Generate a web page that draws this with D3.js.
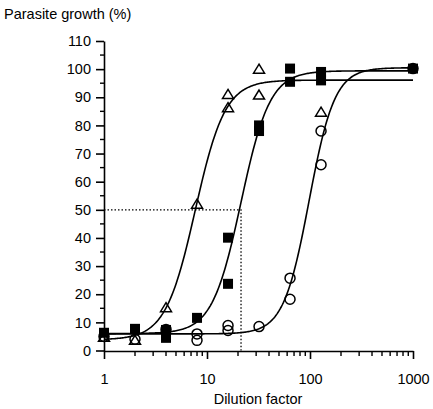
<!DOCTYPE html>
<html><head><meta charset="utf-8">
<script src="https://cdn.jsdelivr.net/npm/d3@7"></script>
<style>body{margin:0;background:#fff}svg{display:block}text{font-family:"Liberation Sans",Arial,sans-serif;fill:#000}</style>
</head><body>
<script>
// Dilution factors and parasite growth (%)
const triX = [1, 2, 4, 8, 16, 16, 32, 32, 128];
const triY = [4.7, 3.6, 15.2, 52, 91, 86.3, 100, 90.8, 84.7];
const sqX = [1, 2, 4, 4, 8, 16, 16, 32, 32, 64, 64, 128, 128, 1000];
const sqY = [6.3, 7.7, 7.3, 4.5, 11.6, 40.1, 23.7, 80, 78, 100.2, 95.5, 99, 96, 100.2];
const ciX = [1, 2, 4, 8, 8, 16, 16, 32, 64, 64, 128, 128, 1000];
const ciY = [5, 4, 7.5, 5.9, 3.6, 8.9, 7.1, 8.5, 25.7, 18.2, 78, 66, 100.2];
// fitted 4-parameter logistic curves: [bottom, top, EC50, hill]
const triFit = [3.8, 96.1, 7.7, 3.0];
const sqFit = [6.0, 99.4, 21.4, 3.1];
const ciFit = [5.9, 100.5, 98, 3.5];
const ic50 = 21.4;
const yTicks = [0,10,20,30,40,50,60,70,80,90,100,110];
const xTicks = [1,10,100,1000];

const W = 433, H = 409;
const svg = d3.select("body").append("svg").attr("width", W).attr("height", H);
const x = d3.scaleLog().domain([1,1000]).range([104,413]);
const y = d3.scaleLinear().domain([0,110]).range([350.5,41]);

// y axis
const yAxis = d3.axisLeft(y).tickValues(yTicks).tickSize(8).tickSizeOuter(0).tickPadding(5).tickFormat(d3.format("d"));
const gy = svg.append("g").attr("transform","translate(104,0)").call(yAxis);
gy.select(".domain").attr("stroke","#000").attr("stroke-width",1.6);
gy.selectAll(".tick line").attr("stroke-width",1.6);
gy.selectAll(".tick text").attr("font-size",14.5).attr("font-family","Liberation Sans, Arial, sans-serif").attr("fill","#111");
const yMinor = d3.range(5,110,10);
svg.append("g").selectAll("line").data(yMinor).join("line")
  .attr("x1",100).attr("x2",104).attr("y1",d=>y(d)).attr("y2",d=>y(d))
  .attr("stroke","#000").attr("stroke-width",1.4);

// x axis
const xAxis = d3.axisBottom(x).tickValues(xTicks).tickSize(8).tickSizeOuter(0).tickPadding(15).tickFormat(d3.format("d"));
const gx = svg.append("g").attr("transform","translate(0,351)").call(xAxis);
gx.select(".domain").attr("stroke","#000").attr("stroke-width",1.6);
gx.selectAll(".tick line").attr("stroke-width",1.6);
gx.selectAll(".tick text").attr("font-size",14.5).attr("font-family","Liberation Sans, Arial, sans-serif").attr("fill","#111");
const xMinor = [];
[1,10,100].forEach(b=>{for(let k=2;k<=9;k++) xMinor.push(b*k);});
svg.append("g").selectAll("line").data(xMinor).join("line")
  .attr("x1",d=>x(d)).attr("x2",d=>x(d)).attr("y1",351).attr("y2",356)
  .attr("stroke","#000").attr("stroke-width",1.4);

// dotted IC50 guide
svg.append("path")
  .attr("d", `M${x(1)},${y(50)}H${x(ic50)}V${y(0)}`)
  .attr("fill","none").attr("stroke","#000").attr("stroke-width",1.3).attr("stroke-dasharray","1.5,2");

// curves
const xs = d3.range(0, 3.0001, 0.01).map(e => Math.pow(10, e));
const model = p => xv => p[0] + (p[1]-p[0])/(1+Math.pow(p[2]/xv, p[3]));
const line = d3.line().x(d=>x(d[0])).y(d=>y(d[1]));
[triFit, sqFit, ciFit].forEach(p=>{
  const f = model(p);
  svg.append("path").attr("d", line(xs.map(v=>[v,f(v)])))
    .attr("fill","none").attr("stroke","#000").attr("stroke-width",1.6);
});

// markers
svg.append("g").selectAll("rect").data(d3.zip(sqX,sqY)).join("rect")
  .attr("x",d=>x(d[0])-5).attr("y",d=>y(d[1])-5).attr("width",10).attr("height",10).attr("fill","#000");
svg.append("g").selectAll("circle").data(d3.zip(ciX,ciY)).join("circle")
  .attr("cx",d=>x(d[0])).attr("cy",d=>y(d[1])).attr("r",5).attr("fill","none").attr("stroke","#000").attr("stroke-width",1.5);
svg.append("g").selectAll("path").data(d3.zip(triX,triY)).join("path")
  .attr("d",d=>{const cx=x(d[0]), cy=y(d[1]); return `M${cx},${cy-5}L${cx+5.5},${cy+4}L${cx-5.5},${cy+4}Z`;})
  .attr("fill","none").attr("stroke","#000").attr("stroke-width",1.5);

// titles
svg.append("text").attr("x",4).attr("y",19).attr("font-size",14.5).text("Parasite growth (%)");
svg.append("text").attr("x",258).attr("y",404).attr("font-size",14.5).attr("text-anchor","middle").text("Dilution factor");
</script>
</body></html>
